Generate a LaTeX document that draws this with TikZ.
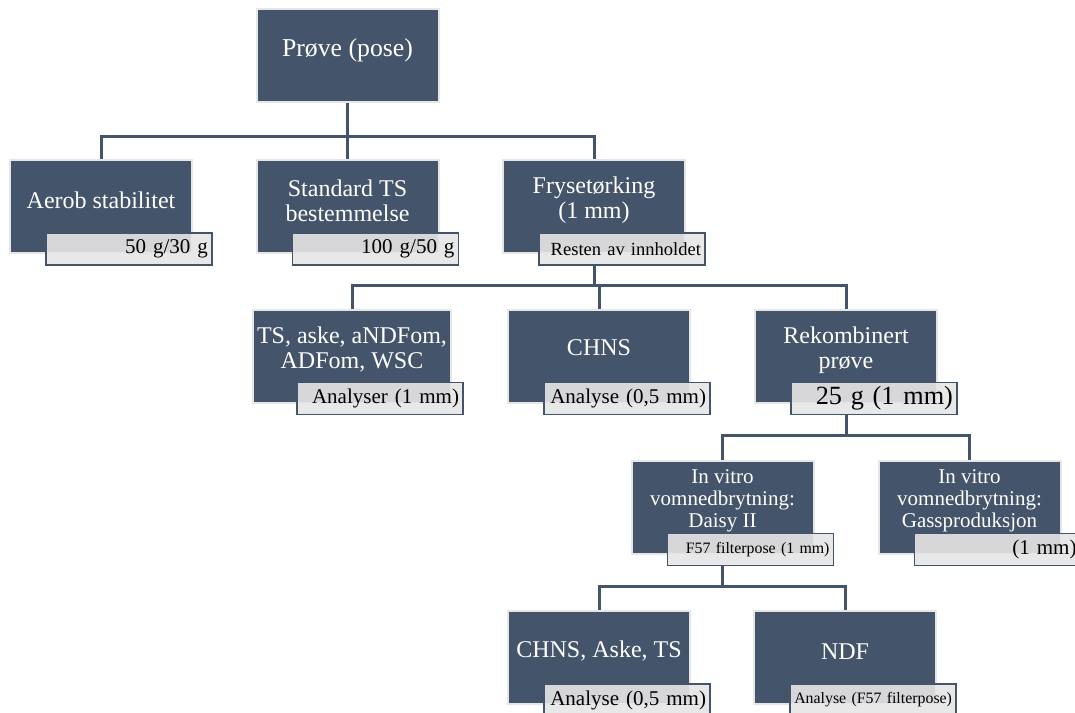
\documentclass[tikz,border=0pt]{standalone}
\usepackage{fontspec}
\setmainfont{Liberation Serif}
\usetikzlibrary{calc}
\definecolor{slate}{HTML}{44546A}
\definecolor{paper}{HTML}{E7E6E6}
\tikzset{
  box/.style={rectangle, fill=slate, draw=paper, line width=1.5pt,
    minimum width=136.5pt, minimum height=69.75pt, inner sep=0pt},
  boxtext/.style={text=white, align=center, inner sep=0pt,
    font=\fontsize{18}{18.75}\selectfont},
  tag/.style={rectangle, fill=paper, fill opacity=0.9, text opacity=1,
    draw=slate, line width=1.1pt, text width=118.5pt, align=right,
    minimum height=24pt, inner xsep=3pt, inner ysep=0pt,
    font=\fontsize{15.75}{16}\selectfont},
  link/.style={draw=slate, line width=2.25pt},
}
\begin{document}
\begin{tikzpicture}[x=0.75pt, y=-0.75pt]
\fill[white] (0,0) rectangle (1075,713);
\useasboundingbox (0,0) rectangle (1075,713);

% sample
\node[box] (prove) at (347.5,56) {};
\node[boxtext, font=\fontsize{19.3}{20}\selectfont] (prove-txt) at ($(prove)+(0,-6)$) {Prøve (pose)};

% second row
\node[box] (aerob) at (101,206.5) {};
\node[boxtext] (aerob-txt) at ($(aerob)+(0,-6)$) {Aerob stabilitet};
\node[tag] (aerob-tag) at ($(aerob)+(28,42.5)$) {50 g/30 g};

\node[box] (stdts) at (347.5,206.5) {};
\node[boxtext] (stdts-txt) at ($(stdts)+(0,-6)$) {Standard TS\\bestemmelse};
\node[tag] (stdts-tag) at ($(stdts)+(28,42.5)$) {100 g/50 g};

\node[box] (fryse) at (594,206.5) {};
\node[boxtext] (fryse-txt) at ($(fryse)+(0,-6)$) {Frysetørking\\(1 mm)};
\node[tag, font=\fontsize{13.9}{14}\selectfont] (fryse-tag) at ($(fryse)+(28,42.5)$) {Resten av innholdet};

% third row
\node[box, minimum width=148.5pt] (tsaske) at (352,356) {};
\node[boxtext] (tsaske-txt) at ($(tsaske)+(0,-6)$) {TS, aske, aNDFom,\\ADFom, WSC};
\node[tag] (tsaske-tag) at ($(tsaske)+(28,42.5)$) {Analyser (1 mm)};

\node[box] (chns) at (599,356) {};
\node[boxtext] (chns-txt) at ($(chns)+(0,-8)$) {CHNS};
\node[tag] (chns-tag) at ($(chns)+(28,42.5)$) {Analyse (0,5 mm)};

\node[box] (rekomb) at (846,356) {};
\node[boxtext] (rekomb-txt) at ($(rekomb)+(0,-6)$) {Rekombinert\\prøve};
\node[tag, font=\fontsize{19.7}{20}\selectfont] (rekomb-tag) at ($(rekomb)+(28,42.5)$) {25 g (1 mm)};

% fourth row
\node[box] (daisy) at (722.5,507) {};
\node[boxtext, font=\fontsize{15.75}{16.5}\selectfont] (daisy-txt) at ($(daisy)+(0,-6)$) {In vitro\\vomnedbrytning:\\Daisy II};
\node[tag, font=\fontsize{11.9}{12}\selectfont] (daisy-tag) at ($(daisy)+(28,42.5)$) {F57 filterpose (1 mm)};

\node[box] (gass) at (969.5,507) {};
\node[boxtext, font=\fontsize{15.75}{16.5}\selectfont] (gass-txt) at ($(gass)+(0,-6)$) {In vitro\\vomnedbrytning:\\Gassproduksjon};
\node[tag] (gass-tag) at ($(gass)+(28,42.5)$) {(1 mm)};

% fifth row
\node[box] (chnsaske) at (599,657.5) {};
\node[boxtext] (chnsaske-txt) at ($(chnsaske)+(0,-6)$) {CHNS, Aske, TS};
\node[tag] (chnsaske-tag) at ($(chnsaske)+(28,42.5)$) {Analyse (0,5 mm)};

\node[box] (ndf) at (845,657.5) {};
\node[boxtext] (ndf-txt) at ($(ndf)+(0,-6)$) {NDF};
\node[tag, font=\fontsize{11.9}{12}\selectfont] (ndf-tag) at ($(ndf)+(28,42.5)$) {Analyse (F57 filterpose)};

% connectors
\draw[link] (prove.south) |- ($(aerob.north)+(0,-22)$) -- (aerob.north);
\draw[link] (prove.south) |- ($(stdts.north)+(0,-22)$) -- (stdts.north);
\draw[link] (prove.south) |- ($(fryse.north)+(0,-22)$) -- (fryse.north);

\draw[link] (fryse.south |- fryse-tag.south) |- ($(tsaske.north)+(0,-23)$) -- (tsaske.north);
\draw[link] (fryse.south |- fryse-tag.south) |- ($(chns.north)+(0,-23)$) -- (chns.north);
\draw[link] (fryse.south |- fryse-tag.south) |- ($(rekomb.north)+(0,-23)$) -- (rekomb.north);

\draw[link] (rekomb.south |- rekomb-tag.south) |- ($(daisy.north)+(0,-24)$) -- (daisy.north);
\draw[link] (rekomb.south |- rekomb-tag.south) |- ($(gass.north)+(0,-24)$) -- (gass.north);

\draw[link] (daisy.south |- daisy-tag.south) |- ($(chnsaske.north)+(0,-24)$) -- (chnsaske.north);
\draw[link] (daisy.south |- daisy-tag.south) |- ($(ndf.north)+(0,-24)$) -- (ndf.north);
\end{tikzpicture}
\end{document}
